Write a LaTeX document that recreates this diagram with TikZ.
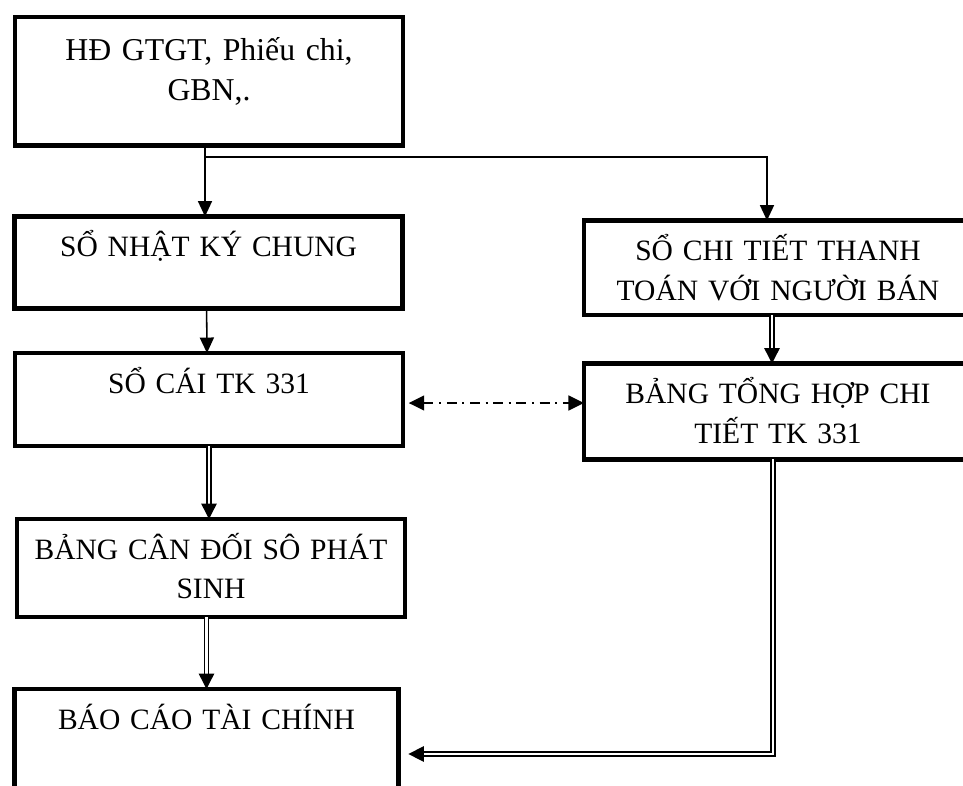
\documentclass[tikz,border=0pt]{standalone}
\usepackage{fontspec}
\setmainfont{Liberation Serif}
\usetikzlibrary{arrows.meta, calc}

\begin{document}
\begin{tikzpicture}[
        x=0.025cm, y=-0.025cm,
        block/.style={rectangle, draw, line width=3.4pt, inner sep=0pt, outer sep=0pt, minimum width=9.7cm, text width=9.4cm, align=center, anchor=north, text height=1cm, font=\fontsize{21}{28.4}\selectfont},
        arrow/.style={-{Triangle[length=11pt, width=10pt]}, line width=1.1pt},
        dblarrow/.style={-{Triangle[length=11pt, width=11pt]}, double, line width=1pt, double distance=1.9pt},
        dasharrow/.style={{Triangle[length=11pt, width=10.5pt]}-{Triangle[length=11pt, width=10.5pt]}, line width=1.4pt, dash pattern=on 7pt off 4pt on 1.5pt off 4pt}
    ]
        \path[use as bounding box, clip] (0,0) rectangle (963,785);

        % Blocks
        \node[block, font=\fontsize{22.6}{29}\selectfont, text height=1.075cm, text depth=2.14cm] (hd) at (209,17) {HĐ GTGT, Phiếu chi,\\GBN,.};
        \node[block, text depth=1.3cm] (nkc) at (208.6,216.5) {SỔ NHẬT KÝ CHUNG};
        \node[block, text depth=1.325cm] (socai) at (209,353) {SỔ CÁI TK 331};
        \node[block, text depth=1.45cm] (bcd) at (211,519) {BẢNG CÂN ĐỐI SÔ PHÁT\\SINH};
        \node[block, minimum width=9.6cm, text depth=2.5cm] (bctc) at (206.5,689) {BÁO CÁO TÀI CHÍNH};
        \node[block, text depth=1.36cm] (sct) at (778,220.5) {SỔ CHI TIẾT THANH\\TOÁN VỚI NGƯỜI BÁN};
        \node[block, text depth=1.39cm] (bth) at (778,363.5) {BẢNG TỔNG HỢP CHI\\TIẾT TK 331};

        % Points
        \coordinate (split) at (205,157);
        \coordinate (mid) at (495,403);
        \coordinate (turn) at (773,754);

        % Arrows
        \draw[arrow] (split |- hd.south) -- (split |- nkc.north);
        \draw[arrow] (split) -| ($(sct.north)+(-11,0)$);
        \draw[arrow] ($(nkc.south)+(-2,0)$) -- ($(socai.north)+(-2,0)$);
        \draw[dblarrow] ($(sct.south)+(-6,0)$) -- ($(bth.north)+(-6,0)$);
        \draw[dasharrow, shorten <=4pt] (mid -| socai.east) -- (mid -| bth.west);
        \draw[dblarrow] (socai.south) -- (socai.south |- bcd.north);
        \draw[dblarrow] (bcd.south -| bctc.north) -- (bctc.north);
        \draw[dblarrow, shorten >=7pt] (turn |- bth.south) -- (turn) -- (turn -| bctc.east);
    \end{tikzpicture}
\end{document}
